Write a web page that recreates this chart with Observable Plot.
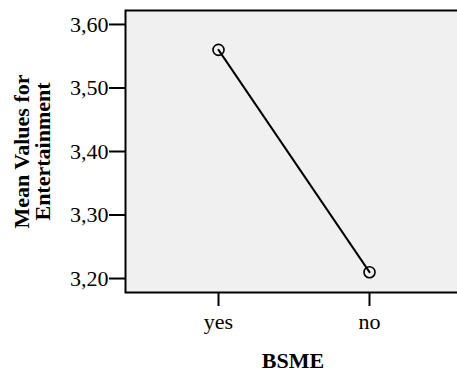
<!DOCTYPE html>
<html>
<head>
<meta charset="utf-8">
<script src="https://cdn.jsdelivr.net/npm/d3@7"></script>
<script src="https://cdn.jsdelivr.net/npm/@observablehq/plot@0.6"></script>
<style>
  html, body { margin: 0; padding: 0; background: white; overflow: hidden; }
  #chart { width: 457px; height: 373px; overflow: hidden; }
</style>
</head>
<body>
<div id="chart"></div>
<script>
const categories = ["yes", "no"];
const means = [3.56, 3.21];
const yTicks = [3.20, 3.30, 3.40, 3.50, 3.60];
const xTitle = "BSME";
const yTitle = "Mean Values for\nEntertainment";

const data = categories.map((c, i) => ({cat: c, mean: means[i]}));

const chart = Plot.plot({
  width: 457,
  height: 373,
  marginLeft: 125,
  marginRight: -3,
  marginTop: 10,
  marginBottom: 81,
  style: {fontFamily: "'Liberation Serif', 'Times New Roman', serif", background: "white", overflow: "hidden"},
  x: {type: "point", domain: categories, range: [218, 369], padding: 0},
  y: {domain: [3.178, 3.622]},
  marks: [
    Plot.frame({fill: "#f0f0f0", stroke: "black", strokeWidth: 2}),
    Plot.axisY({
      ticks: yTicks,
      tickFormat: d => d.toFixed(2).replace(".", ","),
      tickSize: 16,
      tickPadding: 1,
      strokeWidth: 2,
      fontSize: 22,
      fill: "black",
      label: null
    }),
    Plot.axisX({
      tickSize: 14,
      tickPadding: 7,
      strokeWidth: 2,
      fontSize: 22,
      fill: "black",
      label: null
    }),
    Plot.text([yTitle], {
      frameAnchor: "left",
      textAnchor: "middle",
      rotate: -90,
      dx: -93,
      fontSize: 22,
      fontWeight: "bold",
      lineHeight: 0.95,
      fill: "black"
    }),
    Plot.text([xTitle], {
      frameAnchor: "bottom",
      dy: 75,
      fontSize: 22,
      fontWeight: "bold",
      fill: "black"
    }),
    Plot.line(data, {x: "cat", y: "mean", stroke: "black", strokeWidth: 2}),
    Plot.dot(data, {x: "cat", y: "mean", r: 5.5, stroke: "black", strokeWidth: 1.6, fill: "none"})
  ]
});
document.getElementById("chart").append(chart);
</script>
</body>
</html>
